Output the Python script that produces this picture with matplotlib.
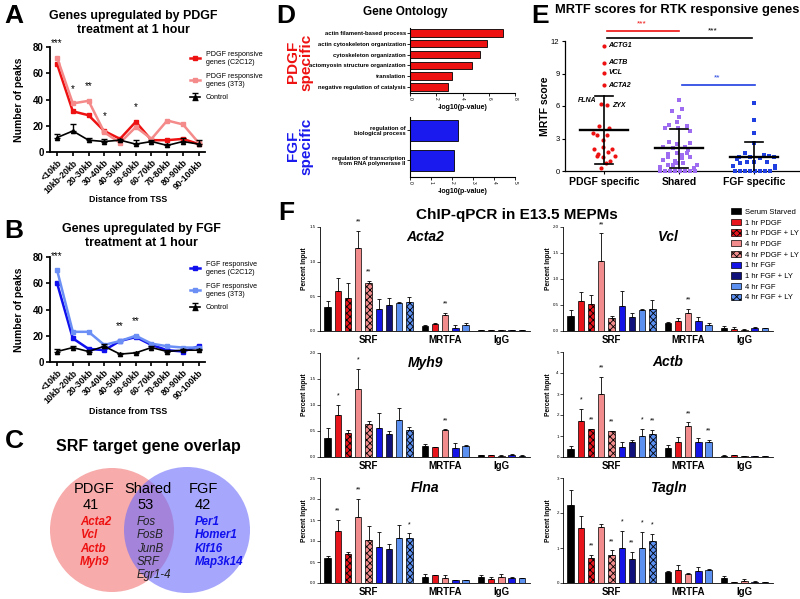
import numpy as np
import matplotlib
matplotlib.use("Agg")
import matplotlib.pyplot as plt
from matplotlib.patches import Circle, Patch

plt.rcParams['font.family'] = ['Liberation Sans', 'DejaVu Sans']
plt.rcParams['hatch.linewidth'] = 0.6

# ---------------- data ----------------
dist_bins = ["<10kb", "10kb-20kb", "20-30kb", "30-40kb", "40-50kb", "50-60kb",
             "60-70kb", "70-80kb", "80-90kb", "90-100kb"]

pdgf_c2c12 = [67, 31, 28, 16, 10, 23, 9, 9, 10, 6]
pdgf_3t3 = [72, 37, 39, 15, 7, 19, 10, 24, 21, 7]
ctrl_a = [11, 16, 9, 8, 9, 6, 8, 5, 8, 6]
ctrl_a_err = [3, 5.5, 2, 2, 1, 3.5, 1, 1, 3, 3]
stars_a = ["***", "*", "**", "*", "", "*", "", "", "", ""]

fgf_c2c12 = [60, 18, 10, 9, 16, 19, 13, 9, 8, 12]
fgf_3t3 = [70, 23, 23, 13, 16, 20, 14, 12, 11, 11]
ctrl_b = [8, 11, 8, 12, 6, 7, 11, 8, 9, 9]
ctrl_b_err = [2, 1, 1, 2, 0.5, 0.5, 1, 1, 1, 1]
stars_b = ["***", "", "", "", "**", "**", "", "", "", ""]

venn_counts = [41, 53, 42]
venn_pdgf_genes = ["Acta2", "Vcl", "Actb", "Myh9"]
venn_shared_genes = ["Fos", "FosB", "JunB", "SRF", "Egr1-4"]
venn_fgf_genes = ["Per1", "Homer1", "Klf16", "Map3k14"]

go_pdgf_terms = ["actin filament-based process", "actin cytoskeleton organization",
                 "cytoskeleton organization", "actomyosin structure organization",
                 "translation", "negative regulation of catalysis"]
go_pdgf_vals = [7.1, 5.9, 5.3, 4.7, 3.2, 2.9]
go_fgf_terms = ["regulation of\nbiological process",
                "regulation of transcription\nfrom RNA polymerase II"]
go_fgf_vals = [2.3, 2.08]

mrtf_groups = ["PDGF specific", "Shared", "FGF specific"]
pdgf_scores = [11.55, 10.0, 9.05, 7.92, 6.23, 6.07, 4.17, 3.99, 3.47, 3.34, 3.31, 2.85,
               2.24, 1.99, 1.99, 1.78, 1.56, 1.38, 1.38, 1.32, 0.95, 0.70, 0.31]
pdgf_jit = [0, 0, 0, 0, -0.04, 0.044, -0.067, 0.071, -0.151, -0.089, 0.036, -0.018,
            -0.009, -0.133, 0.102, 0.049, -0.076, -0.098, 0.151, -0.009, 0.08, 0.027, -0.044]
pdgf_named = ["ACTG1", "ACTB", "VCL", "ACTA2", "FLNA", "ZYX"]
shared_scores = [6.53, 5.7, 5.52, 5.0, 4.54, 4.23, 4.14, 3.99, 3.93, 3.68, 2.70, 2.55, 2.48,
                 2.24, 2.24, 2.09, 1.95, 1.63, 1.63, 1.56, 1.47, 1.32, 1.30, 1.16, 1.0, 0.9,
                 0.7, 0.7, 0.6, 0.6, 0.55, 0.4, 0.3, 0, 0, 0, 0, 0, 0, 0, 0]
shared_jit = [0.004, 0.036, -0.098, 0.004, -0.031, -0.129, 0.102, -0.187, -0.009, 0.147,
              -0.133, 0.147, -0.031, -0.209, 0.08, -0.084, 0.12, -0.031, 0.102, -0.142, 0.04,
              -0.142, 0.147, 0.036, -0.209, -0.06, -0.031, 0.058, -0.142, -0.076, 0.236,
              -0.253, 0.2, -0.253, -0.187, -0.12, -0.053, 0.013, 0.08, 0.147, 0.213]
fgf_scores = [6.29, 4.75, 3.53, 2.55, 1.63, 1.47, 1.38, 1.32, 1.32, 1.30, 1.16, 1.07, 0.86,
              0.86, 0.8, 0.7, 0.49, 0.46, 0.25, 0, 0, 0, 0, 0, 0, 0, 0]
fgf_jit = [0, 0, 0, 0, -0.12, 0.124, 0.191, -0.053, 0.258, -0.2, 0.08, -0.231, -0.009,
           0.169, -0.098, -0.187, -0.276, 0.28, 0.28, -0.187, -0.12, -0.053, 0.013, 0.08,
           0.147, 0.213, -0.253]
mrtf_means = [3.82, 2.09, 1.26]
mrtf_sds = [3.14, 1.83, 1.44]

conditions = ["Serum Starved", "1 hr PDGF", "1 hr PDGF + LY", "4 hr PDGF", "4 hr PDGF + LY",
              "1 hr FGF", "1 hr FGF + LY", "4 hr FGF", "4 hr FGF + LY"]
cond_colors = ["black", "#e8141c", "#e8141c", "#f28b8b", "#f28b8b",
               "#1414e6", "#10107a", "#5b8ff0", "#5b8ff0"]
cond_hatch = [None, None, "xxxxx", None, "xxxxx", None, None, None, "xxxxx"]
sub_conds = [0, 1, 3, 5, 7]   # conditions shown for MRTFA and IgG

acta2_srf = [0.35, 0.57, 0.48, 1.19, 0.69, 0.32, 0.38, 0.41, 0.42]
acta2_srf_err = [0.08, 0.19, 0.21, 0.25, 0.03, 0.14, 0.10, 0.01, 0.07]
acta2_mrtfa = [0.07, 0.10, 0.23, 0.05, 0.09]
acta2_mrtfa_err = [0.01, 0.01, 0.03, 0.03, 0.02]
acta2_igg = [0.01, 0.012, 0.015, 0.01, 0.01]
acta2_igg_err = [0.003, 0.003, 0.005, 0.003, 0.003]
acta2_stars = [["", "", "", "**", "**", "", "", "", ""], ["", "", "**", "", ""]]

vcl_srf = [0.28, 0.57, 0.51, 1.35, 0.25, 0.48, 0.26, 0.41, 0.43]
vcl_srf_err = [0.12, 0.18, 0.18, 0.53, 0.04, 0.28, 0.09, 0.01, 0.16]
vcl_mrtfa = [0.15, 0.20, 0.35, 0.20, 0.12]
vcl_mrtfa_err = [0.03, 0.05, 0.08, 0.07, 0.03]
vcl_igg = [0.05, 0.045, 0.025, 0.065, 0.05]
vcl_igg_err = [0.05, 0.025, 0.005, 0.02, 0.01]
vcl_stars = [["", "", "", "**", "", "", "", "", ""], ["", "", "**", "", ""]]

myh9_srf = [0.36, 0.81, 0.46, 1.30, 0.64, 0.55, 0.44, 0.71, 0.52]
myh9_srf_err = [0.19, 0.19, 0.06, 0.39, 0.06, 0.29, 0.06, 0.23, 0.05]
myh9_mrtfa = [0.22, 0.19, 0.51, 0.18, 0.22]
myh9_mrtfa_err = [0.03, 0.01, 0.02, 0.09, 0.01]
myh9_igg = [0.03, 0.035, 0.025, 0.04, 0.025]
myh9_igg_err = [0.015, 0.005, 0.005, 0.02, 0.005]
myh9_stars = [["", "*", "", "*", "", "", "", "", ""], ["", "", "**", "", ""]]

actb_srf = [0.40, 1.70, 1.33, 3.00, 1.22, 0.50, 0.70, 1.02, 1.10]
actb_srf_err = [0.14, 0.59, 0.02, 0.80, 0.02, 0.21, 0.09, 0.31, 0.20]
actb_mrtfa = [0.44, 0.73, 1.46, 0.70, 0.73]
actb_mrtfa_err = [0.13, 0.22, 0.19, 0.19, 0.10]
actb_igg = [0.06, 0.08, 0.03, 0.03, 0.03]
actb_igg_err = [0.02, 0.02, 0.01, 0.01, 0.01]
actb_stars = [["", "*", "**", "**", "**", "", "", "*", "**"], ["", "", "**", "", "**"]]

flna_srf = [0.60, 1.25, 0.68, 1.57, 1.02, 0.85, 0.81, 1.08, 1.08]
flna_srf_err = [0.05, 0.25, 0.05, 0.43, 0.34, 0.37, 0.13, 0.30, 0.10]
flna_mrtfa = [0.14, 0.19, 0.13, 0.06, 0.06]
flna_mrtfa_err = [0.07, 0.0, 0.07, 0.01, 0.01]
flna_igg = [0.14, 0.10, 0.14, 0.13, 0.12]
flna_igg_err = [0.06, 0.04, 0.08, 0.01, 0.01]
flna_stars = [["", "**", "", "**", "", "", "", "", "*"], ["", "", "", "", ""]]

tagln_srf = [2.22, 1.57, 0.71, 1.60, 0.81, 1.01, 0.70, 1.01, 1.20]
tagln_srf_err = [0.43, 0.34, 0.10, 0.10, 0.12, 0.49, 0.19, 0.45, 0.21]
tagln_mrtfa = [0.31, 0.38, 0.26, 0.34, 0.38]
tagln_mrtfa_err = [0.04, 0.14, 0.04, 0.11, 0.03]
tagln_igg = [0.14, 0.03, 0.06, 0.04, 0.02]
tagln_igg_err = [0.06, 0.0, 0.06, 0.01, 0.005]
tagln_stars = [["", "", "**", "", "**", "*", "**", "*", "*"], ["", "", "", "", ""]]

RED = "#ee1111"
PINK = "#f48a8a"
BLUE = "#1010ee"
LBLUE = "#6b8ff5"
PURPLE = "#9d6cf0"

fig = plt.figure(figsize=(8, 5.99), dpi=100)


def px_axes(left, top, right, bottom):
    return fig.add_axes([left / 800, 1 - bottom / 599, (right - left) / 800, (bottom - top) / 599])


def fx(x):
    return x / 800


def fy(y):
    return 1 - y / 599


def letter(x, y, s):
    fig.text(fx(x), fy(y), s, fontsize=19, fontweight='bold', ha='center', va='center')


# ---------------- A / B ----------------
def line_panel(top, bottom, s1, s2, c1, c2, ctrl, ctrl_err, stars, labels):
    ax = px_axes(50, top, 205, bottom)
    x = np.arange(len(dist_bins))
    ax.plot(x, s1, color=c1, marker='s', ms=3, lw=1.8, label=labels[0])
    ax.plot(x, s2, color=c2, marker='s', ms=3, lw=1.8, label=labels[1])
    ax.errorbar(x, ctrl, yerr=[np.zeros(len(ctrl)), ctrl_err], color='black', marker='^',
                ms=3, lw=1.2, capsize=2.5, elinewidth=1.0, label="Control")
    for i, s in enumerate(stars):
        if s:
            ax.text(i, max(s1[i], s2[i]) + 11, s, ha='center', va='center', fontsize=7)
    ax.set_xlim(-0.45, 9.4)
    ax.set_ylim(0, 80)
    ax.set_yticks([0, 20, 40, 60, 80])
    ax.set_xticks(x)
    ax.set_xticklabels(dist_bins, rotation=45, ha='right', rotation_mode='anchor',
                       fontsize=6.3, fontweight='bold')
    for t in ax.get_yticklabels():
        t.set_fontweight('bold')
        t.set_fontsize(7)
    ax.spines['top'].set_visible(False)
    ax.spines['right'].set_visible(False)
    ax.spines['left'].set_linewidth(1.3)
    ax.spines['bottom'].set_linewidth(1.3)
    ax.tick_params(width=1.2, length=3, pad=1.5)
    ax.legend(loc='upper left', bbox_to_anchor=(fx(187), fy(top + 1)), bbox_transform=fig.transFigure,
              fontsize=5.1, frameon=False, handlelength=1.5, labelspacing=0.95, borderaxespad=0)
    fig.text(fx(19), fy((top + bottom) / 2), "Number of peaks", rotation=90, ha='center',
             va='center', fontsize=7.5, fontweight='bold')
    return ax


line_panel(47, 152, pdgf_c2c12, pdgf_3t3, RED, PINK, ctrl_a, ctrl_a_err, stars_a,
           ["PDGF responsive\ngenes (C2C12)", "PDGF responsive\ngenes (3T3)"])
fig.text(fx(133), fy(16), "Genes upregulated by PDGF", ha='center', va='center', fontsize=8.9, fontweight='bold')
fig.text(fx(133), fy(30), "treatment at 1 hour", ha='center', va='center', fontsize=8.9, fontweight='bold')
fig.text(fx(128), fy(200), "Distance from TSS", ha='center', va='center', fontsize=6.3, fontweight='bold')
letter(14, 16, "A")

line_panel(257, 362, fgf_c2c12, fgf_3t3, BLUE, LBLUE, ctrl_b, ctrl_b_err, stars_b,
           ["FGF responsive\ngenes (C2C12)", "FGF responsive\ngenes (3T3)"])
fig.text(fx(141), fy(229), "Genes upregulated by FGF", ha='center', va='center', fontsize=8.9, fontweight='bold')
fig.text(fx(141), fy(243), "treatment at 1 hour", ha='center', va='center', fontsize=8.9, fontweight='bold')
fig.text(fx(128), fy(411), "Distance from TSS", ha='center', va='center', fontsize=6.3, fontweight='bold')
letter(14, 231, "B")

# ---------------- C ----------------
axC = px_axes(0, 455, 270, 599)
axC.set_xlim(0, 270)
axC.set_ylim(599, 455)
axC.axis('off')
axC.add_patch(Circle((112, 530), 62, facecolor=(0.95, 0.45, 0.45), alpha=0.6, lw=0))
axC.add_patch(Circle((187, 530), 63, facecolor=(0.42, 0.42, 0.98), alpha=0.6, lw=0))
axC.text(94, 489, "PDGF", ha='center', va='center', fontsize=10.5)
axC.text(91, 505, str(venn_counts[0]), ha='center', va='center', fontsize=10.5)
axC.text(148, 489, "Shared", ha='center', va='center', fontsize=10.5)
axC.text(146, 505, str(venn_counts[1]), ha='center', va='center', fontsize=10.5)
axC.text(203, 489, "FGF", ha='center', va='center', fontsize=10.5)
axC.text(203, 505, str(venn_counts[2]), ha='center', va='center', fontsize=10.5)
for i, g in enumerate(venn_pdgf_genes):
    axC.text(80, 522 + 13.3 * i, g, ha='left', va='center', fontsize=8.3, fontweight='bold',
             fontstyle='italic', color=RED)
for i, g in enumerate(venn_shared_genes):
    axC.text(137, 522 + 13.3 * i, g, ha='left', va='center', fontsize=8.3, fontstyle='italic',
             color='#222222')
for i, g in enumerate(venn_fgf_genes):
    axC.text(195, 522 + 13.3 * i, g, ha='left', va='center', fontsize=8.3, fontweight='bold',
             fontstyle='italic', color=BLUE)
fig.text(fx(148), fy(447), "SRF target gene overlap", ha='center', va='center', fontsize=11.5,
         fontweight='bold')
letter(14, 441, "C")

# ---------------- D ----------------
def go_panel(top, bottom, terms, vals, color, xmax, xstep):
    ax = px_axes(410, top, 515, bottom)
    y = np.arange(len(terms))
    ax.barh(y, vals, height=0.7, color=color, edgecolor='black', lw=0.6)
    ax.set_ylim(len(terms) - 0.45, -0.45)
    ax.set_xlim(0, xmax)
    ax.set_xticks(np.arange(0, xmax + 0.01, xstep))
    ax.set_yticks(y)
    ax.set_yticklabels(terms, fontsize=4.2, fontweight='bold', linespacing=1.0)
    ax.tick_params(axis='x', labelsize=3.5, labelrotation=-90, length=2, width=0.6, pad=1)
    ax.tick_params(axis='y', length=2, width=0.6, pad=1)
    ax.spines['top'].set_visible(False)
    ax.spines['right'].set_visible(False)
    ax.spines['left'].set_linewidth(0.8)
    ax.spines['bottom'].set_linewidth(0.8)
    return ax


go_panel(28, 93, go_pdgf_terms, go_pdgf_vals, RED, 8, 2)
fig.text(fx(463), fy(108), "-log10(p-value)", ha='center', va='center', fontsize=5, fontweight='bold')
go_panel(117, 177, go_fgf_terms, go_fgf_vals, "#1a1aee", 5, 1)
fig.text(fx(463), fy(191), "-log10(p-value)", ha='center', va='center', fontsize=5, fontweight='bold')
fig.text(fx(300), fy(62), "PDGF\nspecific", rotation=90, ha='center', va='center', fontsize=11,
         fontweight='bold', color=RED, linespacing=0.95)
fig.text(fx(300), fy(146), "FGF\nspecific", rotation=90, ha='center', va='center', fontsize=11,
         fontweight='bold', color="#1a1aee", linespacing=0.95)
fig.text(fx(405), fy(12), "Gene Ontology", ha='center', va='center', fontsize=8.5, fontweight='bold')
letter(286, 16, "D")

# ---------------- E ----------------
axE = px_axes(565, 41, 800, 171)
groups = [(pdgf_scores, pdgf_jit, RED, 'o'), (shared_scores, shared_jit, PURPLE, 's'),
          (fgf_scores, fgf_jit, "#1f3fe0", 's')]
for gi, (sc, jit, col, mk) in enumerate(groups):
    ax_x = gi + np.array(jit)
    axE.scatter(ax_x, sc, s=9, color=col, marker=mk, lw=0, clip_on=False, zorder=3)
    m = mrtf_means[gi]
    sd = mrtf_sds[gi]
    axE.plot([gi - 0.32, gi + 0.32], [m, m], color='black', lw=1.7, zorder=4)
    axE.plot([gi, gi], [m - sd, m + sd], color='black', lw=1.2, zorder=4)
    axE.plot([gi - 0.12, gi + 0.12], [m + sd, m + sd], color='black', lw=1.2, zorder=4)
    axE.plot([gi - 0.12, gi + 0.12], [m - sd, m - sd], color='black', lw=1.2, zorder=4)
for i, name in enumerate(pdgf_named):
    if name == "FLNA":
        axE.text(pdgf_jit[i] - 0.06, pdgf_scores[i] + 0.25, name, ha='right', va='center',
                 fontsize=5, fontweight='bold', fontstyle='italic')
    elif name == "ZYX":
        axE.text(pdgf_jit[i] + 0.06, pdgf_scores[i] - 0.05, name, ha='left', va='center',
                 fontsize=5, fontweight='bold', fontstyle='italic')
    else:
        axE.text(pdgf_jit[i] + 0.06, pdgf_scores[i], name, ha='left', va='center',
                 fontsize=5, fontweight='bold', fontstyle='italic')
axE.plot([0.04, 1.0], [12.93, 12.93], color=RED, lw=1.2, clip_on=False)
axE.text(0.5, 13.55, "***", color=RED, ha='center', va='center', fontsize=6)
axE.plot([0.04, 1.97], [12.28, 12.28], color='black', lw=1.2, clip_on=False)
axE.text(1.45, 12.9, "***", color='black', ha='center', va='center', fontsize=6)
axE.plot([1.04, 2.01], [7.94, 7.94], color="#1f3fe0", lw=1.2)
axE.text(1.51, 8.6, "**", color="#1f3fe0", ha='center', va='center', fontsize=6)
axE.set_xlim(-0.52, 2.61)
axE.set_ylim(0, 12)
axE.set_yticks([0, 3, 6, 9, 12])
axE.set_xticks([0, 1, 2])
axE.set_xticklabels(mrtf_groups, fontsize=7.5, fontweight='bold')
axE.tick_params(axis='y', labelsize=5.5, length=2.5, width=0.8, pad=1.5)
axE.tick_params(axis='x', length=2.5, width=0.8, pad=2)
axE.spines['top'].set_visible(False)
axE.spines['right'].set_visible(False)
axE.spines['left'].set_linewidth(0.9)
axE.spines['bottom'].set_linewidth(0.9)
fig.text(fx(545), fy(106), "MRTF score", rotation=90, ha='center', va='center', fontsize=7.5,
         fontweight='bold')
fig.text(fx(677), fy(10), "MRTF scores for RTK responsive genes", ha='center', va='center',
         fontsize=9.3, fontweight='bold')
letter(540, 16, "E")

# ---------------- F ----------------
srf_pos = np.arange(9)
mrtfa_pos = 9.5 + np.arange(5)
igg_pos = 15 + np.arange(5)


def chip_panel(left, top, bottom, name, srf, srf_err, mrtfa, mrtfa_err, igg, igg_err,
               stars, ymax, ystep, fmt):
    ax = px_axes(left, top, left + 210, bottom)
    for i in range(9):
        ax.bar(srf_pos[i], srf[i], width=0.62, color=cond_colors[i], hatch=cond_hatch[i],
               edgecolor='black', lw=0.5)
    for j, ci in enumerate(sub_conds):
        ax.bar(mrtfa_pos[j], mrtfa[j], width=0.62, color=cond_colors[ci], edgecolor='black', lw=0.5)
        ax.bar(igg_pos[j], igg[j], width=0.62, color=cond_colors[ci], edgecolor='black', lw=0.5)
    all_pos = np.concatenate([srf_pos, mrtfa_pos, igg_pos])
    all_val = np.concatenate([srf, mrtfa, igg])
    all_err = np.concatenate([srf_err, mrtfa_err, igg_err])
    ax.errorbar(all_pos, all_val, yerr=[np.zeros(len(all_err)), all_err], fmt='none',
                ecolor='black', elinewidth=0.6, capsize=1.5, capthick=0.6)
    for i, s in enumerate(stars[0]):
        if s:
            ax.text(srf_pos[i], srf[i] + srf_err[i] + 0.085 * ymax, s, ha='center', va='center', fontsize=5)
    for j, s in enumerate(stars[1]):
        if s:
            ax.text(mrtfa_pos[j], mrtfa[j] + mrtfa_err[j] + 0.085 * ymax, s, ha='center',
                    va='center', fontsize=5)
    ax.set_xlim(-0.75, 19.8)
    ax.set_ylim(0, ymax)
    ticks = np.arange(0, ymax + 0.001, ystep)
    ax.set_yticks(ticks)
    ax.set_yticklabels([fmt % t for t in ticks])
    ax.set_xticks([4, 11.5, 17])
    ax.set_xticklabels(["SRF", "MRTFA", "IgG"], fontsize=7, fontweight='bold')
    ax.tick_params(axis='x', length=0, pad=3)
    ax.tick_params(axis='y', labelsize=3.2, length=2, width=0.5, pad=1)
    ax.spines['top'].set_visible(False)
    ax.spines['right'].set_visible(False)
    ax.spines['left'].set_linewidth(0.6)
    ax.spines['bottom'].set_linewidth(0.6)
    ax.text(0.5, 1 - 10 / (bottom - top), name, transform=ax.transAxes, ha='center', va='center',
            fontsize=10, fontweight='bold', fontstyle='italic')
    fig.text(fx(left - 15), fy((top + bottom) / 2 - 10), "Percent Input", rotation=90, ha='center',
             va='center', fontsize=4.8, fontweight='bold')
    return ax


chip_panel(320, 227, 331, "Acta2", acta2_srf, acta2_srf_err, acta2_mrtfa, acta2_mrtfa_err,
           acta2_igg, acta2_igg_err, acta2_stars, 1.5, 0.5, "%.1f")
chip_panel(563, 227, 331, "Vcl", vcl_srf, vcl_srf_err, vcl_mrtfa, vcl_mrtfa_err,
           vcl_igg, vcl_igg_err, vcl_stars, 2.0, 0.5, "%.1f")
chip_panel(320, 353, 457, "Myh9", myh9_srf, myh9_srf_err, myh9_mrtfa, myh9_mrtfa_err,
           myh9_igg, myh9_igg_err, myh9_stars, 2.0, 0.5, "%.1f")
chip_panel(563, 352, 457, "Actb", actb_srf, actb_srf_err, actb_mrtfa, actb_mrtfa_err,
           actb_igg, actb_igg_err, actb_stars, 5, 1, "%d")
chip_panel(320, 478, 583, "Flna", flna_srf, flna_srf_err, flna_mrtfa, flna_mrtfa_err,
           flna_igg, flna_igg_err, flna_stars, 2.5, 0.5, "%.1f")
chip_panel(563, 478, 583, "Tagln", tagln_srf, tagln_srf_err, tagln_mrtfa, tagln_mrtfa_err,
           tagln_igg, tagln_igg_err, tagln_stars, 3, 1, "%d")

handles = [Patch(facecolor=cond_colors[i], hatch=cond_hatch[i], edgecolor='black', lw=0.5)
           for i in range(9)]
fig.legend(handles, conditions, loc='upper left', bbox_to_anchor=(fx(731), fy(208)),
           fontsize=5.5, frameon=False, handlelength=1.3, handleheight=0.9, labelspacing=0.38,
           handletextpad=0.5, borderaxespad=0, borderpad=0)
fig.text(fx(517), fy(215), "ChIP-qPCR in E13.5 MEPMs", ha='center', va='center', fontsize=11,
         fontweight='bold')
letter(286, 213, "F")

fig.savefig("out.png", dpi=100)
